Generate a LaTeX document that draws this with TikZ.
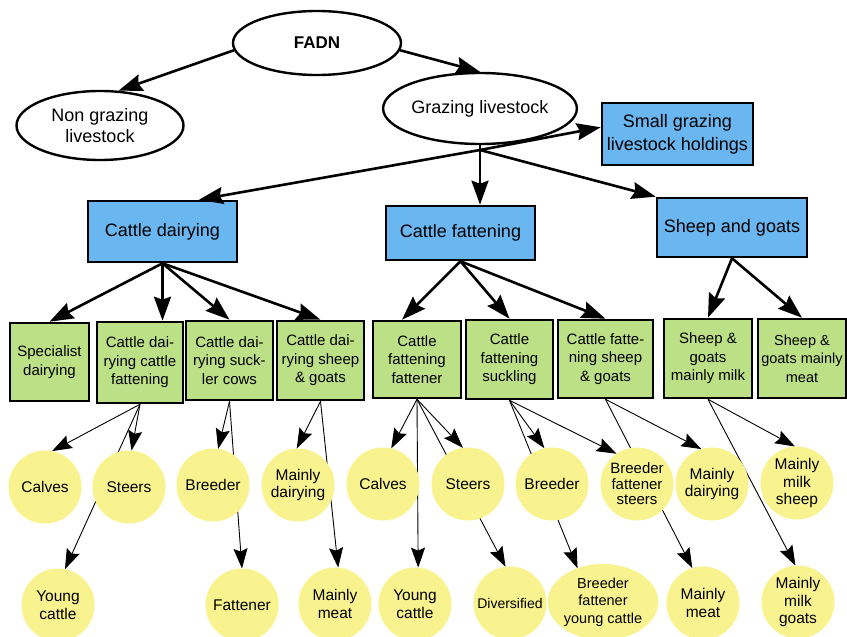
\documentclass[tikz,border=0pt]{standalone}
\usepackage{fontspec}
\setmainfont{Liberation Sans}
\usetikzlibrary{arrows.meta,shapes.geometric}
\pgfdeclarelayer{bg}
\pgfsetlayers{bg,main}
\definecolor{boxblue}{RGB}{106,182,240}
\definecolor{boxgreen}{RGB}{188,224,134}
\definecolor{leafyellow}{RGB}{248,243,142}
\begin{document}
\begin{tikzpicture}[x=1pt,y=-1pt,
  oval/.style={ellipse,draw,line width=2.4pt,fill=white,inner sep=0pt,align=center,font=\fontsize{18}{21}\selectfont},
  bluebox/.style={rectangle,draw,line width=2.6pt,fill=boxblue,inner sep=0pt,align=center,font=\fontsize{18}{23}\selectfont},
  greenbox/.style={rectangle,draw,line width=2.6pt,fill=boxgreen,inner sep=0pt,align=center,font=\fontsize{15}{18.5}\selectfont},
  leaf/.style={circle,fill=leafyellow,inner sep=0pt,outer sep=0pt,minimum size=73pt,align=center,font=\fontsize{15.5}{17.5}\selectfont},
  bigarrow/.style={line width=2.6pt,-{Stealth[length=24pt,width=17pt,inset=3pt]}},
  thinarrow/.style={line width=0.9pt,-{Stealth[length=20pt,width=14pt,inset=3pt]}},
]
\begin{pgfonlayer}{bg}
\fill[white] (0,0) rectangle (847,637);
\end{pgfonlayer}
\useasboundingbox (0,0) rectangle (847,637);

% top level
\node[oval,minimum width=168pt,minimum height=64pt,font=\bfseries\fontsize{17}{20}\selectfont] (fadn) at (317,43) {FADN};
\node[oval,minimum width=167pt,minimum height=69pt] (ng) at (100,125.5) {Non grazing\\livestock};
\node[oval,minimum width=167pt,minimum height=71pt] (graz) at (480,108.5) {Grazing livestock};
\node[bluebox,minimum width=151pt,minimum height=62pt] (sgh) at (677.5,134) {Small grazing\\livestock holdings};

% second level
\node[bluebox,minimum width=149pt,minimum height=61pt] (cd) at (162.5,231.5) {Cattle dairying};
\node[bluebox,minimum width=149pt,minimum height=54pt] (cf) at (460.5,233) {Cattle fattening};
\node[bluebox,minimum width=150pt,minimum height=59pt] (sg) at (732,227.5) {Sheep and goats};

% third level
\node[greenbox,minimum width=79pt,minimum height=78pt] (g1) at (49.5,362) {Specialist\\dairying};
\node[greenbox,minimum width=86pt,minimum height=81pt] (g2) at (140,362.5) {Cattle dai-\\rying cattle\\fattening};
\node[greenbox,minimum width=87pt,minimum height=79pt] (g3) at (229.5,360.5) {Cattle dai-\\rying suck-\\ler cows};
\node[greenbox,minimum width=87pt,minimum height=79pt] (g4) at (320.5,360.5) {Cattle dai-\\rying sheep\\\& goats};
\node[greenbox,minimum width=88pt,minimum height=77pt] (g5) at (417,359.5) {Cattle\\fattening\\fattener};
\node[greenbox,minimum width=87pt,minimum height=79pt] (g6) at (509.5,359.5) {Cattle\\fattening\\suckling};
\node[greenbox,minimum width=95pt,minimum height=78pt] (g7) at (605.5,359) {Cattle fatte-\\ning sheep\\\& goats};
\node[greenbox,minimum width=88pt,minimum height=79pt] (g8) at (708,358.5) {Sheep \&\\goats\\mainly milk};
\node[greenbox,minimum width=88pt,minimum height=79pt,font=\fontsize{14.5}{18.5}\selectfont] (g9) at (802,358.5) {Sheep \&\\goats mainly\\meat};

% leaves, first row
\node[leaf] (c1) at (45,487) {Calves};
\node[leaf] (c2) at (129,487) {Steers};
\node[leaf] (c3) at (213,485) {Breeder};
\node[leaf] (c4) at (298,485) {Mainly\\dairying};
\node[leaf] (c5) at (383,484) {Calves};
\node[leaf] (c6) at (468,484) {Steers};
\node[leaf] (c7) at (552,484) {Breeder};
\node[leaf,font=\fontsize{15}{15.5}\selectfont] (c8) at (637,484) {Breeder\\fattener\\steers};
\node[leaf] (c9) at (712,484) {Mainly\\dairying};
\node[leaf] (c10) at (797,483) {Mainly\\milk\\sheep};

% leaves, second row
\node[leaf] (d1) at (58,605) {Young\\cattle};
\node[leaf] (d2) at (242,605) {Fattener};
\node[leaf] (d3) at (335,604) {Mainly\\meat};
\node[leaf] (d4) at (415,604) {Young\\cattle};
\node[leaf,font=\fontsize{14}{16}\selectfont] (d5) at (510,603) {Diversified};
\node[leaf,ellipse,minimum width=95pt,minimum height=76pt,font=\fontsize{14.5}{17.5}\selectfont] (d6) at (603,602) {Breeder\\fattener\\young cattle};
\node[leaf] (d7) at (703,603) {Mainly\\meat};
\node[leaf] (d8) at (798,602) {Mainly\\milk\\goats};

% thick connectors
\draw[bigarrow] (fadn.185) -- (ng.62);
\draw[bigarrow] (fadn.-5) -- (graz.north);
\coordinate (gj) at (480,150);
\draw[line width=2.6pt] (graz.south) -- (gj);
\draw[bigarrow] (gj) -- (sgh.175);
\draw[bigarrow] (gj) -- (cd.41);
\draw[bigarrow] (gj) -- (gj |- cf.north);
\draw[bigarrow] (gj) -- (sg.north west);

\draw[bigarrow] (cd.south) -- (g1.north);
\draw[bigarrow] (cd.south) -- (cd.south |- g2.north);
\draw[bigarrow] (cd.south) -- (g3.north);
\draw[bigarrow] (cd.south) -- (g4.north);
\draw[bigarrow] (cf.south) -- ([xshift=-15pt]g5.north);
\draw[bigarrow] (cf.south) -- (g6.north);
\draw[bigarrow] (cf.south) -- (g7.north);
\draw[bigarrow] (sg.south) -- (g8.north);
\draw[bigarrow] (sg.south) -- (g9.north);

% thin connectors, behind the leaves
\begin{pgfonlayer}{bg}
\draw[thinarrow] (g2.south) -- (c1.79);
\draw[thinarrow] (g2.south) -- (c2.86);
\draw[thinarrow] (g2.south) -- (d1.79);
\draw[thinarrow] (g3.south) -- (c3.82);
\draw[thinarrow] (g3.south) -- (d2.north);
\draw[thinarrow] (g4.south) -- (c4.92);
\draw[thinarrow] (g4.south) -- (d3.85);
\draw[thinarrow] (g5.south) -- (c5.77);
\draw[thinarrow] (g5.south) -- (c6.98);
\draw[thinarrow] (g5.south) -- (d4.85);
\draw[thinarrow] (g5.south) -- (d5.97);
\draw[thinarrow] (g6.south) -- (c7.102);
\draw[thinarrow] (g6.south) -- (c8.124);
\draw[thinarrow] (g6.south) -- (d6.127);
\draw[thinarrow] (g7.south) -- (c9.107);
\draw[thinarrow] (g7.south) -- (d7.107);
\draw[thinarrow] (g8.south) -- (c10.93);
\draw[thinarrow] (g8.south) -- (d8.94);
\end{pgfonlayer}
\end{tikzpicture}
\end{document}
